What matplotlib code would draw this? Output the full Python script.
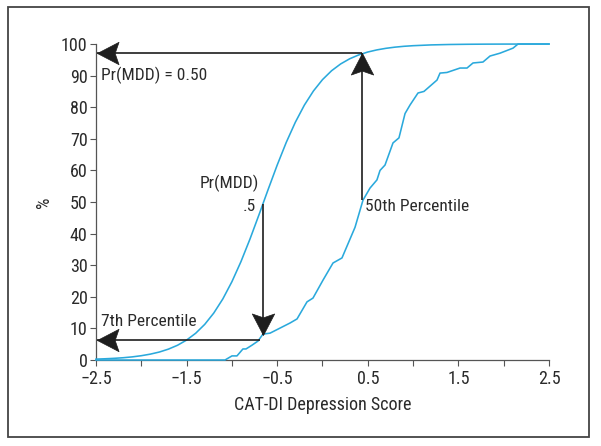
import matplotlib.pyplot as plt
from matplotlib import font_manager
from matplotlib.path import Path
from matplotlib.patches import Rectangle
import numpy as np

# pick a condensed face if one is installed (reference uses a narrow grotesque)
fonts = font_manager.fontManager.ttflist
names = {f.name for f in fonts}
fs = 10.0
family = ['DejaVu Sans']
stretch = 'normal'
for cand in ['Liberation Sans Narrow', 'Roboto Condensed', 'Open Sans Condensed',
             'Noto Sans Condensed', 'DejaVu Sans Condensed']:
    if cand in names:
        family = [cand, 'DejaVu Sans']
        fs = 12.5
        break
else:
    for fam in ['Roboto', 'Noto Sans', 'Open Sans', 'DejaVu Sans']:
        if any(f.name == fam and str(f.stretch) in ('condensed', 'semi-condensed', '75', '87.5')
               for f in fonts):
            family = [fam, 'DejaVu Sans']
            stretch = 'condensed'
            fs = 11.5
            break
plt.rcParams['font.family'] = family
plt.rcParams['font.stretch'] = stretch

# smooth curve: probability of MDD (%) vs CAT-DI score
smooth_x = [-2.5, -2.4, -2.3, -2.2, -2.1, -2.0, -1.9, -1.8, -1.7, -1.6,
            -1.5, -1.4, -1.3, -1.2, -1.1, -1.0, -0.9, -0.8, -0.7, -0.6,
            -0.5, -0.4, -0.3, -0.2, -0.1, 0.0, 0.1, 0.2, 0.3, 0.4,
            0.5, 0.6, 0.7, 0.8, 0.9, 1.0, 1.2, 1.4, 1.6, 1.8, 2.0, 2.5]
smooth_y = [0.28, 0.39, 0.53, 0.72, 0.99, 1.36, 1.86, 2.53, 3.45, 4.67,
            6.31, 8.46, 11.27, 14.86, 19.33, 24.77, 31.13, 38.31, 46.04, 53.96,
            61.69, 68.87, 75.23, 80.67, 85.14, 88.73, 91.54, 93.69, 95.33, 96.55,
            97.47, 98.14, 98.64, 99.01, 99.28, 99.47, 99.72, 99.85, 99.92, 99.96, 99.98, 100.0]

# jagged curve: cumulative percentile of scores
emp_x = [-2.5, -1.076, -0.999, -0.944, -0.878, -0.844, -0.778, -0.712, -0.657,
         -0.579, -0.359, -0.281, -0.171, -0.105, 0.006, 0.116, 0.215, 0.359,
         0.447, 0.524, 0.601, 0.635, 0.690, 0.778, 0.844, 0.911, 0.966, 1.054,
         1.120, 1.264, 1.297, 1.374, 1.518, 1.595, 1.661, 1.771, 1.849, 1.959,
         2.103, 2.158, 2.5]
emp_y = [0.0, 0.0, 1.3, 1.3, 3.5, 3.5, 4.7, 6.0, 8.2,
         8.5, 11.7, 13.0, 18.4, 19.6, 25.3, 30.7, 32.3, 42.0,
         50.6, 54.4, 57.0, 60.0, 61.7, 68.7, 70.3, 78.0, 80.7, 84.5,
         85.0, 88.6, 90.8, 91.0, 92.4, 92.4, 94.0, 94.3, 96.2, 97.1,
         98.7, 100.0, 100.0]

x_ticks = [-2.5, -1.5, -0.5, 0.5, 1.5, 2.5]
x_minor = [-2, -1, 0, 1, 2]
y_ticks = [0, 10, 20, 30, 40, 50, 60, 70, 80, 90, 100]

curve_col = '#2aa9dc'
arrow_col = '#1e1e1e'
text_col = '#2a2a2a'


def head_marker(angle):
    # notched arrowhead, tip at origin, pointing along +x then rotated
    pts = np.array([(0, 0), (-1, 0.52), (-0.82, 0), (-1, -0.52), (0, 0)])
    a = np.deg2rad(angle)
    rot = np.array([[np.cos(a), -np.sin(a)], [np.sin(a), np.cos(a)]])
    pts = pts @ rot.T
    return Path(pts, [Path.MOVETO, Path.LINETO, Path.LINETO, Path.LINETO, Path.CLOSEPOLY])


fig = plt.figure(figsize=(6.01, 4.46), dpi=100)
ax = fig.add_axes([0.1597, 0.1928, 0.7538, 0.7085])

ax.plot(smooth_x, smooth_y, color=curve_col, lw=1.15, clip_on=False, zorder=3)
ax.plot(emp_x, emp_y, color=curve_col, lw=1.15, clip_on=False, zorder=3)

# arrows: (start, tip, direction)
arrows = [((0.44, 97.2), (-2.49, 97.2), 180),
          ((0.44, 50.6), (0.44, 97.2), 90),
          ((-0.66, 49.5), (-0.66, 8.0), 270),
          ((-0.69, 6.2), (-2.49, 6.2), 180)]
for (x0, y0), (x1, y1), ang in arrows:
    ax.plot([x0, x1], [y0, y1], color=arrow_col, lw=1.2, clip_on=False, zorder=4,
            solid_capstyle='butt')
    ax.plot([x1], [y1], marker=head_marker(ang), markersize=31, color=arrow_col,
            markeredgewidth=0.5, clip_on=False, zorder=5)

ax.text(-2.44, 90.2, 'Pr(MDD) = 0.50', fontsize=fs, color=text_col, va='center')
ax.text(-0.7, 56, 'Pr(MDD)', fontsize=fs, color=text_col, va='center', ha='right')
ax.text(-0.73, 48.7, '.5', fontsize=fs, color=text_col, va='center', ha='right')
ax.text(0.47, 48.7, '50th Percentile', fontsize=fs, color=text_col, va='center')
ax.text(-2.44, 12.3, '7th Percentile', fontsize=fs, color=text_col, va='center')

ax.set_xlim(-2.5, 2.5)
ax.set_ylim(0, 100)
ax.set_xticks(x_ticks)
ax.set_xticklabels([f'{t:g}'.replace('-', '\u2212') for t in x_ticks])
ax.set_xticks(x_minor, minor=True)
ax.set_yticks(y_ticks)
ax.tick_params(axis='both', which='both', direction='out', length=4, width=0.8,
               color='#555555', labelsize=fs + 0.5, labelcolor=text_col)
ax.tick_params(axis='y', pad=2)
ax.tick_params(axis='x', pad=3)
ax.spines['top'].set_visible(False)
ax.spines['right'].set_visible(False)
for s in ('left', 'bottom'):
    ax.spines[s].set_color('#555555')
    ax.spines[s].set_linewidth(0.9)

ax.set_xlabel('CAT-DI Depression Score', fontsize=fs + 0.5, color=text_col, labelpad=6)
ax.set_ylabel('%', fontsize=fs + 0.5, color=text_col, labelpad=6)

# outer frame
fig.add_artist(Rectangle((8 / 601, 1 - 437 / 446), 581 / 601, 430 / 446,
                         transform=fig.transFigure, fill=False,
                         edgecolor='#444444', lw=1.3))

fig.savefig('out.png', dpi=100)
